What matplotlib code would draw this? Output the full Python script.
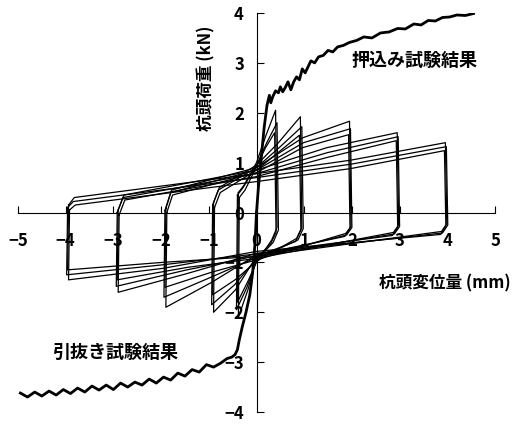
import matplotlib
matplotlib.use('Agg')
import matplotlib.pyplot as plt

plt.rcParams['font.family'] = ['Noto Sans CJK JP', 'DejaVu Sans']

# 押込み試験 (単調載荷)
push_x = [0.00, 0.04, 0.10, 0.16, 0.22, 0.27, 0.30, 0.34, 0.40, 0.46, 0.50, 0.55, 0.60, 0.66,
          0.72, 0.78, 0.84, 0.90, 0.96, 1.02, 1.08, 1.14, 1.22, 1.30, 1.40, 1.50, 1.60, 1.70,
          1.82, 1.95, 2.10, 2.25, 2.42, 2.60, 2.78, 2.96, 3.12, 3.30, 3.45, 3.60, 3.75, 3.90,
          4.05, 4.20, 4.38, 4.55]
push_y = [0.00, 0.50, 1.10, 1.70, 2.15, 2.35, 2.20, 2.32, 2.44, 2.40, 2.52, 2.42, 2.50, 2.62,
          2.46, 2.62, 2.72, 2.66, 2.88, 2.80, 2.92, 3.04, 3.00, 3.12, 3.15, 3.25, 3.22, 3.32,
          3.35, 3.41, 3.45, 3.52, 3.50, 3.60, 3.62, 3.69, 3.68, 3.78, 3.76, 3.85, 3.84, 3.91,
          3.92, 3.96, 3.95, 3.99]

# 引抜き試験 (単調載荷)
pull_x = [0.00, -0.03, -0.08, -0.14, -0.22, -0.30, -0.36, -0.40, -0.45, -0.52, -0.62, -0.75,
          -0.90, -1.05, -1.20, -1.35, -1.50, -1.65, -1.80, -1.95, -2.10, -2.25, -2.40, -2.55,
          -2.70, -2.85, -3.00, -3.15, -3.30, -3.45, -3.60, -3.75, -3.90, -4.05, -4.20, -4.35,
          -4.50, -4.65, -4.80, -4.95]
pull_y = [0.00, -0.60, -1.20, -1.65, -2.00, -2.30, -2.55, -2.75, -2.85, -2.90, -2.93, -3.02,
          -3.10, -3.05, -3.20, -3.15, -3.28, -3.22, -3.36, -3.30, -3.42, -3.34, -3.46, -3.40,
          -3.50, -3.42, -3.55, -3.46, -3.56, -3.48, -3.60, -3.52, -3.63, -3.55, -3.66, -3.58,
          -3.68, -3.60, -3.70, -3.62]

# 繰返し載荷 (振幅ごとに3サイクル)
cyc_dp = [0.40, 0.43, 0.38, 0.92, 0.95, 0.90, 1.95, 1.97, 1.93, 2.95, 2.97, 2.93, 3.96, 3.98, 3.94]
cyc_dn = [-0.38, -0.40, -0.36, -0.90, -0.92, -0.88, -1.90, -1.92, -1.88, -2.90, -2.92, -2.88,
          -3.94, -3.96, -3.92]
cyc_top_pos = [2.05, 1.80, 1.60, 1.92, 1.72, 1.55, 1.83, 1.68, 1.56, 1.60, 1.52, 1.44, 1.40, 1.32, 1.24]
cyc_up_half = [1.55, 1.40, 1.30, 1.40, 1.30, 1.20, 1.50, 1.40, 1.30, 1.30, 1.20, 1.10, 1.05, 0.97, 0.88]
cyc_up_mid = [1.00, 0.95, 0.92, 0.95, 0.90, 0.85, 0.90, 0.85, 0.80, 0.85, 0.78, 0.72, 0.78, 0.70, 0.62]
cyc_up_start = [0.55, 0.50, 0.45, 0.50, 0.45, 0.40, 0.45, 0.40, 0.35, 0.35, 0.30, 0.25, 0.30, 0.22, 0.15]
cyc_vn_top = [0.40, 0.35, 0.30, 0.20, 0.15, 0.10, 0.08, 0.04, 0.00, 0.05, 0.00, -0.05, 0.15, 0.10, 0.05]
cyc_vp_bot = [-0.30, -0.35, -0.40, -0.30, -0.32, -0.35, -0.28, -0.30, -0.32, -0.25, -0.28, -0.30,
              -0.22, -0.25, -0.28]
cyc_bot_pos = [-0.55, -0.60, -0.62, -0.52, -0.55, -0.58, -0.42, -0.45, -0.48, -0.40, -0.43, -0.46,
               -0.38, -0.41, -0.44]
cyc_lo_mid = [-1.00, -0.95, -0.92, -0.98, -0.93, -0.88, -0.95, -0.90, -0.85, -0.92, -0.87, -0.82,
              -0.88, -0.83, -0.78]
cyc_lo_half = [-1.40, -1.50, -1.55, -1.35, -1.45, -1.55, -1.20, -1.30, -1.40, -1.10, -1.15, -1.22,
               -1.00, -1.05, -1.12]
cyc_bot_neg = [-1.80, -1.95, -2.10, -1.65, -1.85, -2.00, -1.50, -1.70, -1.90, -1.35, -1.48, -1.60,
               -1.15, -1.25, -1.35]

fig = plt.figure(figsize=(5.12, 4.24), dpi=100)
ax = fig.add_axes([18 / 512, 12 / 424, 477 / 512, 399 / 424])

for i in range(len(cyc_dp)):
    dp, dn = cyc_dp[i], cyc_dn[i]
    xs = [dn, dn + 0.12, 0, dp / 2, dp, dp + 0.03, dp - 0.08, 0, dn / 2, dn - 0.02, dn]
    ys = [cyc_vn_top[i], cyc_up_start[i], cyc_up_mid[i], cyc_up_half[i], cyc_top_pos[i],
          cyc_vp_bot[i], cyc_bot_pos[i], cyc_lo_mid[i], cyc_lo_half[i], cyc_bot_neg[i],
          cyc_vn_top[i]]
    ax.plot(xs, ys, color='black', lw=0.9)

ax.plot(push_x, push_y, color='black', lw=2.0)
ax.plot(pull_x, pull_y, color='black', lw=2.0)

ax.set_xlim(-5, 5)
ax.set_ylim(-4, 4)
ax.spines['left'].set_position(('data', 0))
ax.spines['bottom'].set_position(('data', 0))
ax.spines['right'].set_visible(False)
ax.spines['top'].set_visible(False)
ax.spines['left'].set_bounds(-4, 4)
ax.spines['bottom'].set_bounds(-5, 5)
ax.set_xticks(range(-5, 6))
ax.set_yticks(range(-4, 5))
ax.tick_params(axis='x', direction='in', length=5, pad=14, labelsize=12)
ax.tick_params(axis='y', direction='in', length=5, pad=9, labelsize=12)
for lab in ax.get_xticklabels() + ax.get_yticklabels():
    lab.set_fontweight('bold')

ax.text(3.31, 3.04, '押込み試験結果', fontsize=13, fontweight='bold', ha='center', va='center')
ax.text(-2.96, -2.80, '引抜き試験結果', fontsize=13, fontweight='bold', ha='center', va='center')
ax.text(3.94, -1.43, '杭頭変位量 (mm)', fontsize=12, fontweight='bold', ha='center', va='center')
ax.text(-1.05, 2.7, '杭頭荷重 (kN)', fontsize=12, fontweight='bold', ha='center', va='center',
        rotation=90)

fig.savefig('out.png', dpi=100)
